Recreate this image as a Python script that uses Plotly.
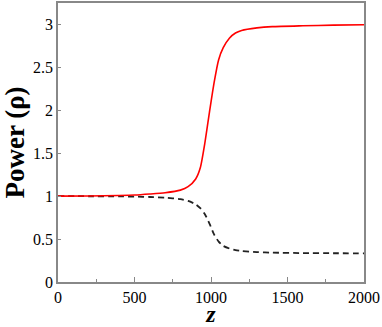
import plotly.graph_objects as go

z = [0, 200, 400, 500, 600, 700, 800, 850, 900, 930, 960, 990, 1020, 1050,
     1080, 1120, 1160, 1200, 1300, 1400, 1600, 1800, 2000]
power_red = [1.0, 1.002, 1.008, 1.013, 1.025, 1.04, 1.07, 1.11, 1.2, 1.33,
             1.62, 1.98, 2.32, 2.59, 2.73, 2.84, 2.9, 2.93, 2.96, 2.975,
             2.985, 2.992, 2.997]
power_black = [1.0, 0.999, 0.997, 0.995, 0.99, 0.982, 0.965, 0.945, 0.905,
               0.86, 0.79, 0.68, 0.555, 0.47, 0.42, 0.39, 0.372, 0.362,
               0.348, 0.342, 0.337, 0.335, 0.334]
x_ticks = [0, 500, 1000, 1500, 2000]
y_ticks = [0, 0.5, 1, 1.5, 2, 2.5, 3]
y_labels = ["0", "0.5", "1", "1.5", "2", "2.5", "3"]

font = "Liberation Serif"

fig = go.Figure()
fig.add_trace(go.Scatter(x=z, y=power_black, mode="lines",
                         line=dict(color="#222222", width=1.8, dash="6px,4px", shape="spline", smoothing=0.6)))
fig.add_trace(go.Scatter(x=z, y=power_red, mode="lines",
                         line=dict(color="#ff0000", width=1.6, shape="spline", smoothing=0.6)))

fig.update_layout(
    width=382, height=327,
    margin=dict(l=58, r=18, t=1, b=44),
    paper_bgcolor="white", plot_bgcolor="white",
    showlegend=False,
    font=dict(family=font, color="black", size=16),
    xaxis=dict(range=[0, 2000], tickvals=x_ticks, ticks="inside", ticklen=5,
               tickcolor="#888888", showgrid=False, zeroline=False,
               showline=True, linecolor="#888888", linewidth=1.5, mirror=True,
               tickfont=dict(family=font, size=16),
               minor=dict(tickvals=[250, 750, 1250, 1750], ticks="inside", ticklen=3, tickcolor="#888888"),
               title=dict(text="<b><i>z</i></b>", font=dict(family=font, size=24), standoff=3)),
    yaxis=dict(range=[0, 3.25], tickvals=y_ticks, ticktext=y_labels, ticks="inside", ticklen=3,
               tickcolor="#888888", showgrid=False, zeroline=False,
               showline=True, linecolor="#888888", linewidth=1.5, mirror=True,
               tickfont=dict(family=font, size=16),
               title=dict(text="<b>Power (ρ)</b>", font=dict(family=font, size=27), standoff=2)),
)

fig.write_html("out.html", config={"displayModeBar": False},
               post_script="document.body.style.margin='0';document.body.style.overflow='hidden';")
